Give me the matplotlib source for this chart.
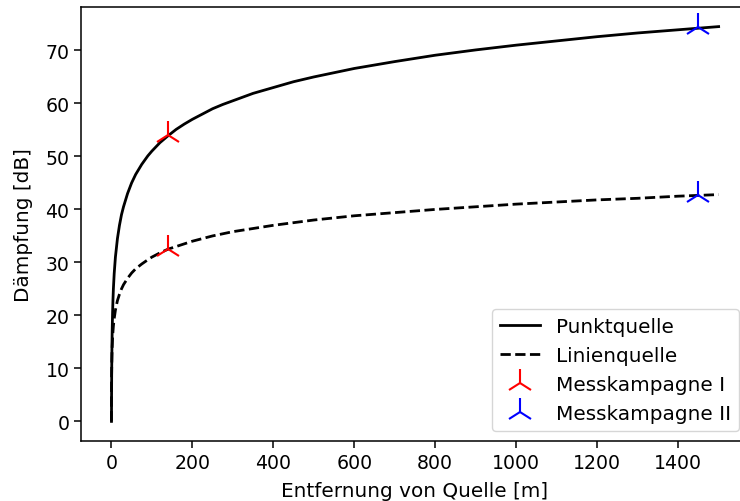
import matplotlib
matplotlib.use('Agg')
import matplotlib.pyplot as plt

#=======================
# Values
#=======================

# Punktquelle (solid line)
r_punkt = [0.28, 0.35, 0.5, 0.75, 1, 1.5, 2, 3, 4, 5, 7, 10, 15, 20, 25, 30, 40,
           50, 60, 75, 90, 100, 120, 140, 160, 180, 200, 225, 250, 275, 300,
           350, 400, 450, 500, 550, 600, 700, 800, 900, 1000, 1100, 1200, 1300,
           1400, 1500]
d_punkt = [0.0, 1.9, 5.0, 8.5, 11.0, 14.5, 17.0, 20.5, 23.0, 25.0, 27.9, 31.0,
           34.5, 37.0, 39.0, 40.5, 43.0, 45.0, 46.6, 48.5, 50.1, 51.0, 52.6,
           53.9, 55.1, 56.1, 57.0, 58.0, 59.0, 59.8, 60.5, 61.9, 63.0, 64.1,
           65.0, 65.8, 66.6, 67.9, 69.1, 70.1, 71.0, 71.8, 72.6, 73.3, 73.9,
           74.5]

# Linienquelle (dashed line)
r_linie = [0.08, 0.1, 0.15, 0.2, 0.28, 0.35, 0.5, 0.75, 1, 1.5, 2, 3, 4, 5, 7,
           10, 15, 20, 25, 30, 40, 50, 60, 75, 90, 100, 120, 140, 160, 180, 200,
           225, 250, 275, 300, 350, 400, 450, 500, 550, 600, 700, 800, 900,
           1000, 1100, 1200, 1300, 1400, 1500]
d_linie = [0.0, 1.0, 2.8, 4.0, 5.5, 6.4, 8.0, 9.7, 11.0, 12.8, 14.0, 15.8, 17.0,
           18.0, 19.4, 21.0, 22.8, 24.0, 25.0, 25.8, 27.0, 28.0, 28.8, 29.7,
           30.5, 31.0, 31.8, 32.5, 33.0, 33.5, 34.0, 34.5, 35.0, 35.4, 35.8,
           36.4, 37.0, 37.5, 38.0, 38.4, 38.8, 39.4, 40.0, 40.5, 41.0, 41.4,
           41.8, 42.1, 42.5, 42.8]

# measurement campaigns
mk1_r = [140, 140]
mk1_d = [54.0, 32.5]
mk2_r = [1450, 1450]
mk2_d = [74.4, 42.8]

#=======================
# Plot
#=======================

plt.rcParams['font.size'] = 14.4
plt.rcParams['xtick.labelsize'] = 13.6
plt.rcParams['ytick.labelsize'] = 13.6
plt.rcParams['axes.linewidth'] = 1.1
plt.rcParams['xtick.major.size'] = 4.8
plt.rcParams['ytick.major.size'] = 4.8
plt.rcParams['xtick.major.width'] = 1.1
plt.rcParams['ytick.major.width'] = 1.1

fig = plt.figure(figsize=(7.4, 5.02), dpi=100)
ax = fig.add_axes([81 / 740, 1 - 442 / 502, (749 - 81) / 740, (442 - 8) / 502])

ax.plot(r_punkt, d_punkt, color='black', lw=2, label='Punktquelle')
ax.plot(r_linie, d_linie, color='black', lw=2, ls='--', label='Linienquelle')
ax.plot(mk1_r, mk1_d, ls='none', marker='2', color='red', ms=20, mew=1.5,
        label='Messkampagne I')
ax.plot(mk2_r, mk2_d, ls='none', marker='2', color='blue', ms=20, mew=1.5,
        label='Messkampagne II')

ax.set_xlim(-75, 1575)
ax.set_ylim(-3.7, 78.2)
ax.set_xticks([0, 200, 400, 600, 800, 1000, 1200, 1400])
ax.set_yticks([0, 10, 20, 30, 40, 50, 60, 70])
ax.set_xlabel('Entfernung von Quelle [m]', labelpad=7)
ax.set_ylabel('Dämpfung [dB]', labelpad=9)

ax.legend(loc='lower right')

fig.savefig('out.png', dpi=100)
